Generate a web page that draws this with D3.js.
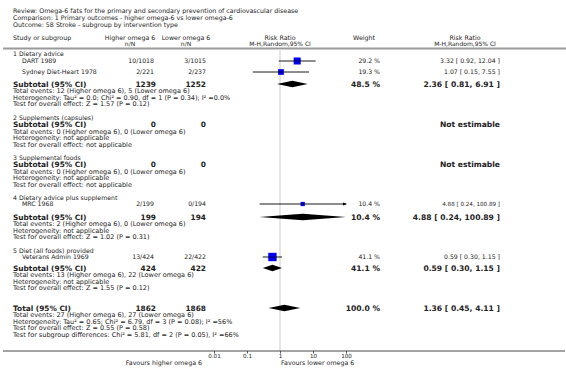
<!DOCTYPE html>
<html><head><meta charset="utf-8">
<script src="https://cdn.jsdelivr.net/npm/d3@7"></script>
<style>
body{margin:0;background:#fff;}
svg text{font-family:"DejaVu Sans",sans-serif;fill:#222;}
</style></head>
<body><svg id="c" width="566" height="368"></svg>
<script>
// ---------------- data ----------------
const headerLines = [
  "Review:  Omega-6 fats for the primary and secondary prevention of cardiovascular disease",
  "Comparison:  1 Primary outcomes - higher omega-6 vs lower omega-6",
  "Outcome:  58 Stroke - subgroup by intervention type"
];
const groupNames = ["1 Dietary advice","2 Supplements (capsules)","3 Supplemental foods","4 Dietary advice plus supplement","5 Diet (all foods) provided"];
const studyNames = ["DART 1989","Sydney Diet-Heart 1978","MRC 1968","Veterans Admin 1969"];
const studyGroup = [0,0,3,4];
const studyHigher = ["10/1018","2/221","2/199","13/424"];
const studyLower = ["3/1015","2/237","0/194","22/422"];
const studyRR = [3.32,1.07,4.88,0.59];
const studyLo = [0.92,0.15,0.24,0.30];
const studyHi = [12.04,7.55,100.89,1.15];
const studyWeight = [29.2,19.3,10.4,41.1];
const subHigherN = [1239,0,0,199,424];
const subLowerN = [1252,0,0,194,422];
const subRR = [2.36,null,null,4.88,0.59];
const subLo = [0.81,null,null,0.24,0.30];
const subHi = [6.91,null,null,100.89,1.15];
const subWeight = [48.5,null,null,10.4,41.1];
const subEvents = [
  "Total events: 12 (Higher omega 6), 5 (Lower omega 6)",
  "Total events: 0 (Higher omega 6), 0 (Lower omega 6)",
  "Total events: 0 (Higher omega 6), 0 (Lower omega 6)",
  "Total events: 2 (Higher omega 6), 0 (Lower omega 6)",
  "Total events: 13 (Higher omega 6), 22 (Lower omega 6)"
];
const subHet = [
  "Heterogeneity: Tau\u00B2 = 0.0; Chi\u00B2 = 0.90, df = 1 (P = 0.34); I\u00B2 =0.0%",
  "Heterogeneity: not applicable","Heterogeneity: not applicable",
  "Heterogeneity: not applicable","Heterogeneity: not applicable"
];
const subTest = [
  "Test for overall effect: Z = 1.57 (P = 0.12)",
  "Test for overall effect: not applicable","Test for overall effect: not applicable",
  "Test for overall effect: Z = 1.02 (P = 0.31)",
  "Test for overall effect: Z = 1.55 (P = 0.12)"
];
const totalN = [1862,1868];
const totalRR = 1.36, totalLo = 0.45, totalHi = 4.11, totalWeight = 100.0;
const totalLines = [
  "Total events: 27 (Higher omega 6), 27 (Lower omega 6)",
  "Heterogeneity: Tau\u00B2 = 0.65; Chi\u00B2 = 6.79, df = 3 (P = 0.08); I\u00B2 =56%",
  "Test for overall effect: Z = 0.55 (P = 0.58)",
  "Test for subgroup differences: Chi\u00B2 = 5.81, df = 2 (P = 0.05), I\u00B2 =66%"
];
const tickValues = [0.01,0.1,1,10,100];
const tickLabels = ["0.01","0.1","1","10","100"];
const favourLeft = "Favours higher omega 6", favourRight = "Favours lower omega 6";

// ---------------- layout ----------------
const svg = d3.select("#c");
const x = d3.scaleLog().domain([0.01,100]).range([214,346]);
const fmt2 = d3.format(".2f");
const ciText = (r,l,h)=>`${fmt2(r)} [ ${fmt2(l)}, ${fmt2(h)} ]`;
const colL = 13, colStudy = 22, colHigh = 154, colLow = 206, colW = 380, colCI = 500;
const groupY = [54,117.5,157.5,198,251];
const studyY = [61,72,204,257];
const subY = [84,124.5,164.5,217,268];
const lineGap = 6.5;
const totalY = 308;
const statSize = 6.5, boldBig = 7.4, boldRight = 7.6;

function txt(xp,yp,s,opt={}){
  return svg.append("text").attr("x",xp).attr("y",yp).attr("dy","0.35em")
    .attr("font-size",opt.size||6.2).attr("font-weight",opt.bold?"bold":"normal")
    .attr("text-anchor",opt.anchor||"start").text(s);
}

// header
headerLines.forEach((s,i)=>txt(colL,11+i*7,s,{size:6.3}));
txt(colL,37.5,"Study or subgroup",{size:6.3});
txt(130,37.5,"Higher omega 6",{size:6.3,anchor:"middle"});
txt(130,44,"n/N",{size:6,anchor:"middle"});
txt(186,37.5,"Lower omega 6",{size:6.3,anchor:"middle"});
txt(186,44,"n/N",{size:6,anchor:"middle"});
txt(280,37.5,"Risk Ratio",{size:6.3,anchor:"middle"});
txt(280,44,"M-H,Random,95% CI",{size:6,anchor:"middle"});
txt(364,37.5,"Weight",{size:6.3,anchor:"middle"});
txt(465,37.5,"Risk Ratio",{size:6.3,anchor:"middle"});
txt(465,44,"M-H,Random,95% CI",{size:6,anchor:"middle"});
svg.append("line").attr("x1",3).attr("x2",566).attr("y1",48.5).attr("y2",48.5)
  .attr("stroke","#9a9a9a").attr("stroke-width",2);

// null line
svg.append("line").attr("x1",x(1)).attr("x2",x(1)).attr("y1",49).attr("y2",351)
  .attr("stroke","#dcdcdc").attr("stroke-width",1.5);

function drawDiamond(r,l,h,yc){
  const [x0,x1]=x.range();
  const xl=Math.max(x(l),x0), xr=Math.min(x(h),x1), xm=x(r), hh=3.3;
  svg.append("path").attr("d",`M${xl},${yc}L${xm},${yc-hh}L${xr},${yc}L${xm},${yc+hh}Z`)
    .attr("fill","#000");
}

// groups
groupNames.forEach((g,i)=>{
  txt(colL,groupY[i],g,{size:6.2});
  txt(colL,subY[i],"Subtotal (95% CI)",{size:boldBig,bold:true});
  txt(colHigh+2,subY[i],subHigherN[i],{size:boldBig,bold:true,anchor:"end"});
  txt(colLow,subY[i],subLowerN[i],{size:boldBig,bold:true,anchor:"end"});
  txt(colL,subY[i]+7,subEvents[i],{size:statSize});
  txt(colL,subY[i]+7+lineGap,subHet[i],{size:statSize});
  txt(colL,subY[i]+7+2*lineGap,subTest[i],{size:statSize});
  if(subRR[i]==null){
    txt(colCI,subY[i],"Not estimable",{size:boldRight,bold:true,anchor:"end"});
  } else {
    txt(colW,subY[i],d3.format(".1f")(subWeight[i])+" %",{size:boldRight,bold:true,anchor:"end"});
    txt(colCI,subY[i],ciText(subRR[i],subLo[i],subHi[i]),{size:boldRight,bold:true,anchor:"end"});
    drawDiamond(subRR[i],subLo[i],subHi[i],subY[i]);
  }
});

// studies
studyNames.forEach((s,i)=>{
  const yc=studyY[i];
  txt(colStudy,yc,s);
  txt(colHigh,yc,studyHigher[i],{anchor:"end"});
  txt(colLow,yc,studyLower[i],{anchor:"end"});
  txt(colW,yc,d3.format(".1f")(studyWeight[i])+" %",{anchor:"end"});
  txt(colCI,yc,ciText(studyRR[i],studyLo[i],studyHi[i]),{anchor:"end",size:(studyHi[i]>100?5.6:6.2)});
  const [x0,x1]=x.range();
  const xl=Math.max(x(studyLo[i]),x0), xr=Math.min(x(studyHi[i]),x1);
  svg.append("line").attr("x1",xl).attr("x2",xr).attr("y1",yc).attr("y2",yc)
    .attr("stroke","#000").attr("stroke-width",0.9);
  if(studyHi[i]>100){
    svg.append("path").attr("d",`M${x1+1},${yc}L${x1-3},${yc-1.6}L${x1-3},${yc+1.6}Z`).attr("fill","#000");
  }
  const sz=Math.sqrt(studyWeight[i])*1.3;
  svg.append("rect").attr("x",x(studyRR[i])-sz/2).attr("y",yc-sz/2).attr("width",sz).attr("height",sz)
    .attr("fill","#0000ee");
  svg.append("line").attr("x1",x(studyRR[i])-sz/2).attr("x2",x(studyRR[i])+sz/2).attr("y1",yc).attr("y2",yc)
    .attr("stroke","#000").attr("stroke-width",0.6);
});

// total
txt(colL,totalY,"Total (95% CI)",{size:boldBig,bold:true});
txt(colHigh+2,totalY,totalN[0],{size:boldBig,bold:true,anchor:"end"});
txt(colLow,totalY,totalN[1],{size:boldBig,bold:true,anchor:"end"});
txt(colW,totalY,d3.format(".1f")(totalWeight)+" %",{size:boldRight,bold:true,anchor:"end"});
txt(colCI,totalY,ciText(totalRR,totalLo,totalHi),{size:boldRight,bold:true,anchor:"end"});
drawDiamond(totalRR,totalLo,totalHi,totalY);
totalLines.forEach((s,i)=>txt(colL,totalY+7+i*lineGap,s,{size:statSize}));

// axis
svg.append("line").attr("x1",3).attr("x2",565).attr("y1",351).attr("y2",351)
  .attr("stroke","#333").attr("stroke-width",0.9);
const ax = svg.append("g").attr("transform","translate(0,351)")
  .call(d3.axisBottom(x).tickValues(tickValues).tickSize(2.5).tickPadding(0.5)
    .tickFormat((d,i)=>tickLabels[i]));
ax.select(".domain").remove();
ax.selectAll(".tick line").attr("stroke","#333").attr("stroke-width",0.8);
ax.selectAll(".tick text").attr("font-size",5.6).attr("fill","#222").attr("font-family","DejaVu Sans");
txt(202,362.5,favourLeft,{size:6.3,anchor:"end"});
txt(281,362.5,favourRight,{size:6.3});
</script></body></html>
